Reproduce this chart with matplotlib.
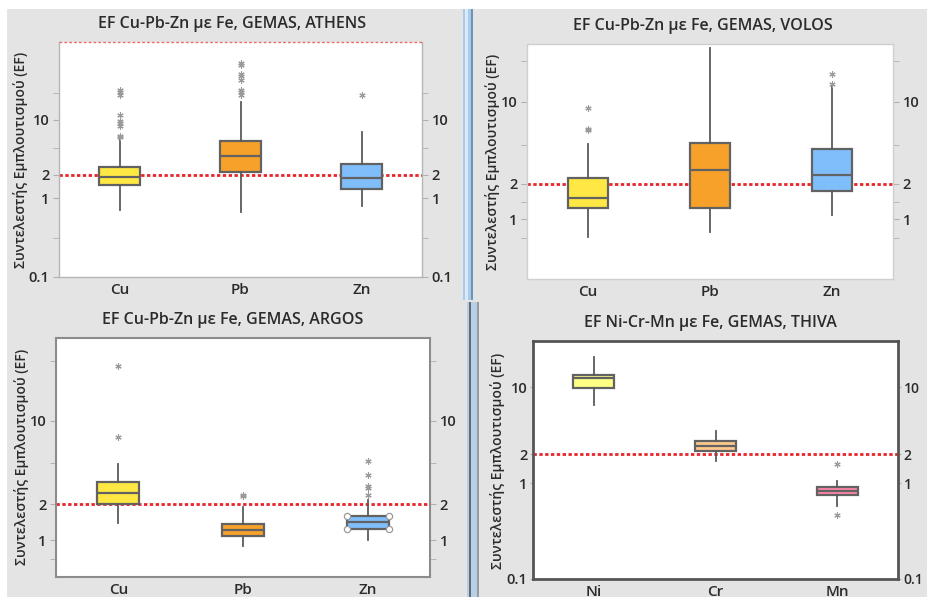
import matplotlib
matplotlib.use("Agg")
import matplotlib.pyplot as plt
from matplotlib.patches import Rectangle

plt.rcParams['font.family'] = ['Open Sans', 'DejaVu Sans']

W, H = 927, 600

# ---- data: box statistics (enrichment factor, log scale) ----
athens_elements = ["Cu", "Pb", "Zn"]
athens_whislo = [0.71, 0.68, 0.80]
athens_q1 = [1.47, 2.20, 1.32]
athens_med = [1.86, 3.50, 1.83]
athens_q3 = [2.52, 5.42, 2.75]
athens_whishi = [5.86, 17.1, 7.1]
athens_fliers = [[6.0, 6.2, 8.4, 9.2, 9.8, 11.6, 20.7, 22.5, 24.4],
                 [21.1, 22.9, 24.4, 32, 36, 39, 49.7, 53],
                 [21.1]]

volos_elements = ["Cu", "Pb", "Zn"]
volos_whislo = [0.70, 0.775, 1.09]
volos_q1 = [1.24, 1.24, 1.74]
volos_med = [1.53, 2.61, 2.38]
volos_q3 = [2.23, 4.48, 3.96]
volos_whishi = [4.34, 28.4, 13.6]
volos_fliers = [[5.8, 5.9, 8.9], [], [14.2, 17.2]]

argos_elements = ["Cu", "Pb", "Zn"]
argos_whislo = [1.40, 0.90, 1.01]
argos_q1 = [2.00, 1.09, 1.24]
argos_med = [2.49, 1.22, 1.43]
argos_q3 = [3.06, 1.36, 1.58]
argos_whishi = [4.39, 1.88, 2.16]
argos_fliers = [[7.34, 29.1], [2.34, 2.40], [2.38, 2.75, 2.84, 3.55, 4.65]]

thiva_elements = ["Ni", "Cr", "Mn"]
thiva_whislo = [6.6, 1.71, 0.58]
thiva_q1 = [9.76, 2.19, 0.75]
thiva_med = [12.5, 2.45, 0.83]
thiva_q3 = [13.5, 2.77, 0.916]
thiva_whishi = [20.9, 3.47, 1.06]
thiva_fliers = [[], [], [0.47, 1.58]]

threshold = 2
ytick_vals = [0.1, 1, 2, 10]
ytick_labels = ["0.1", "1", "2", "10"]

YLAB = "Συντελεστής Εμπλουτισμού (EF)"
BG = "#e4e4e4"
TXT = "#2b2b2b"


def fx(x):
    return x / W


def fy(y):
    return 1 - y / H


fig = plt.figure(figsize=(W / 100, H / 100), dpi=100)
fig.patch.set_facecolor("white")

# grey window background
fig.add_artist(Rectangle((fx(7), fy(597)), fx(920), 588 / H, transform=fig.transFigure,
                         facecolor=BG, edgecolor="none", zorder=0))
# splitter bars between the panels
fig.add_artist(Rectangle((fx(463), fy(300)), fx(10), 291 / H, transform=fig.transFigure,
                         facecolor="#a9cbea", edgecolor="none", zorder=1))
fig.add_artist(Rectangle((fx(465), fy(300)), fx(2.5), 291 / H, transform=fig.transFigure,
                         facecolor="#dce9f6", edgecolor="none", zorder=1))
fig.add_artist(Rectangle((fx(471), fy(300)), fx(1.5), 291 / H, transform=fig.transFigure,
                         facecolor="#6d93b5", edgecolor="none", zorder=1))
fig.add_artist(Rectangle((fx(467), fy(597)), fx(12), 295 / H, transform=fig.transFigure,
                         facecolor="#b6d0ea", edgecolor="none", zorder=1))
fig.add_artist(Rectangle((fx(469), fy(597)), fx(2), 295 / H, transform=fig.transFigure,
                         facecolor="#6a6a6a", edgecolor="none", zorder=1))
fig.add_artist(Rectangle((fx(477), fy(597)), fx(2), 295 / H, transform=fig.transFigure,
                         facecolor="#9a9a9a", edgecolor="none", zorder=1))


def panel(box, title, title_xy, ylab_xy, elements, whislo, q1, med, q3, whishi, fliers,
          colors, ylim, minor, spine_color="#b5b5b5", spine_lw=1.0, red_top=False,
          handles_idx=None, right_labelsize=10.5, pad=3, ticklen=4):
    x0, y0, x1, y1 = box
    ax = fig.add_axes([fx(x0), fy(y1), fx(x1 - x0), (y1 - y0) / H])
    ax.set_facecolor("white")
    stats = []
    for i, name in enumerate(elements):
        stats.append(dict(label=name, whislo=whislo[i], q1=q1[i], med=med[i], q3=q3[i],
                          whishi=whishi[i], fliers=fliers[i]))
    positions = [1, 2, 3]
    width = 0.335
    bp = ax.bxp(stats, positions=positions, widths=width, patch_artist=True, showcaps=False,
                boxprops=dict(edgecolor="#626262", linewidth=1.6),
                medianprops=dict(color="#626262", linewidth=1.6),
                whiskerprops=dict(color="#5a5a5a", linewidth=1.3),
                flierprops=dict(marker=(6, 2, 0), markersize=4.5, markeredgecolor="#9a9a9a",
                                markerfacecolor="#9a9a9a", markeredgewidth=0.8, linestyle="none"),
                zorder=3)
    for patch, c in zip(bp["boxes"], colors):
        patch.set_facecolor(c)
    if handles_idx is not None:
        i = handles_idx
        p = positions[i]
        ax.plot([p - width / 2, p + width / 2, p - width / 2, p + width / 2],
                [q1[i], q1[i], q3[i], q3[i]], linestyle="none", marker="o", markersize=4.5,
                markerfacecolor="white", markeredgecolor="#9a9a9a", markeredgewidth=0.9,
                zorder=5)
    ax.axhline(threshold, color="#e8242a", linestyle=(0, (1.2, 0.9)), linewidth=2.0, zorder=2)
    ax.set_yscale("log")
    ax.set_ylim(*ylim)
    ax.set_xlim(0.5, 3.5)
    shown = [(v, l) for v, l in zip(ytick_vals, ytick_labels) if ylim[0] <= v <= ylim[1] * 1.0001]
    ax.set_yticks([v for v, _ in shown])
    ax.set_yticklabels([l for _, l in shown])
    ax.set_yticks(minor, minor=True)
    ax.set_yticklabels([], minor=True)
    ax.tick_params(axis="y", which="both", left=True, right=True, labelleft=True, labelright=True,
                   direction="out", length=ticklen, color="#b0b0b0", labelsize=10.5,
                   labelcolor=TXT, pad=pad)
    ax.tick_params(axis="x", length=0, labelsize=11, labelcolor=TXT, pad=4)
    ax.set_xticks(positions)
    ax.set_xticklabels(elements)
    for lab in ax.get_xticklabels():
        lab.set_fontweight("semibold")
    for t in ax.yaxis.get_major_ticks():
        t.label1.set_fontweight("semibold")
        t.label2.set_fontweight("semibold")
        t.label2.set_fontsize(right_labelsize)
    for s in ax.spines.values():
        s.set_color(spine_color)
        s.set_linewidth(spine_lw)
    if red_top:
        ax.spines["top"].set_visible(False)
        ax.plot([0, 1], [1, 1], transform=ax.transAxes, color="#ef6a6a",
                linestyle=(0, (2, 1.5)), linewidth=1.0, clip_on=False, zorder=6)
    fig.text(fx(title_xy[0]), fy(title_xy[1]), title, ha="center", va="center",
             fontsize=11.5, fontweight="semibold", color=TXT)
    fig.text(fx(ylab_xy[0]), fy(ylab_xy[1]), YLAB, ha="center", va="center", rotation=90,
             fontsize=10, fontweight="semibold", color=TXT)
    return ax


panel((59, 42, 422, 277), "EF Cu-Pb-Zn με Fe, GEMAS, ATHENS", (232, 24), (21, 160),
      athens_elements, athens_whislo, athens_q1, athens_med, athens_q3, athens_whishi,
      athens_fliers, ["#ffe843", "#f7a12a", "#80bdfb"], (0.1, 98.5), [0.316, 4.4, 21.9],
      red_top=True)

panel((527, 44, 893, 279), "EF Cu-Pb-Zn με Fe, GEMAS, VOLOS", (703, 26), (492, 162),
      volos_elements, volos_whislo, volos_q1, volos_med, volos_q3, volos_whishi,
      volos_fliers, ["#ffe843", "#f7a12a", "#80bdfb"], (0.31, 31), [0.69, 1.39, 4.3, 22.3],
      spine_color="#cfcfcf")

panel((533, 341, 898, 579), "EF Ni-Cr-Mn με Fe, GEMAS, THIVA", (710, 323), (498, 461),
      thiva_elements, thiva_whislo, thiva_q1, thiva_med, thiva_q3, thiva_whishi,
      thiva_fliers, ["#ffff86", "#ffc98c", "#ff85a8"], (0.1, 30.5), [],
      spine_color="#555555", spine_lw=2.0, right_labelsize=10, pad=2, ticklen=2)

panel((56, 338, 430, 577), "EF Cu-Pb-Zn με Fe, GEMAS, ARGOS", (233, 320), (22, 457),
      argos_elements, argos_whislo, argos_q1, argos_med, argos_q3, argos_whishi,
      argos_fliers, ["#ffe843", "#f7a12a", "#80bdfb"], (0.49, 49.7), [0.70, 4.4, 31.6],
      spine_color="#8c8c8c", spine_lw=1.5, handles_idx=2)

fig.savefig("out.png", dpi=100)
